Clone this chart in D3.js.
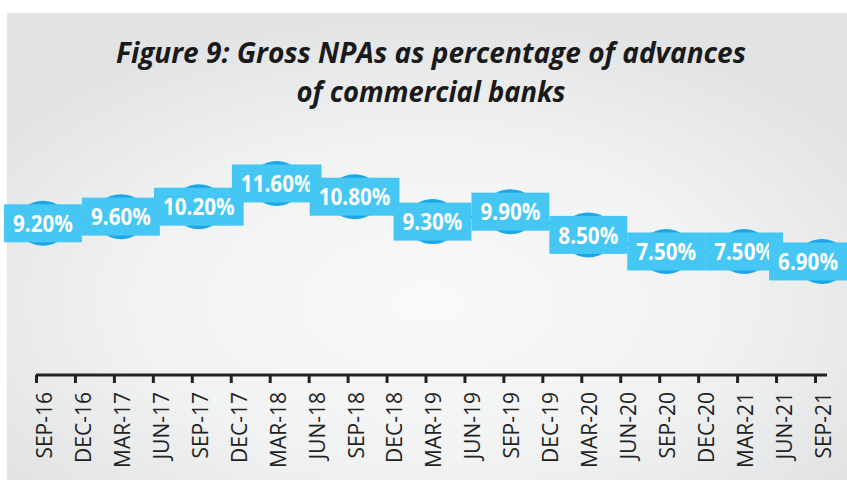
<!DOCTYPE html>
<html>
<head>
<meta charset="utf-8">
<script src="https://cdn.jsdelivr.net/npm/d3@7"></script>
<style>
  body { margin: 0; background: #ffffff; }
  svg { display: block; }
</style>
</head>
<body>
<svg id="chart" width="847" height="480"></svg>
<script>
// quarters on the axis
var quarters = ["SEP-16","DEC-16","MAR-17","JUN-17","SEP-17","DEC-17","MAR-18","JUN-18",
  "SEP-18","DEC-18","MAR-19","JUN-19","SEP-19","DEC-19","MAR-20","JUN-20",
  "SEP-20","DEC-20","MAR-21","JUN-21","SEP-21"];
// half-yearly readings
var pointQuarters = ["SEP-16","MAR-17","SEP-17","MAR-18","SEP-18","MAR-19","SEP-19",
  "MAR-20","SEP-20","MAR-21","SEP-21"];
var npaValues = [9.2, 9.6, 10.2, 11.6, 10.8, 9.3, 9.9, 8.5, 7.5, 7.5, 6.9];
var titleLines = ["Figure 9: Gross NPAs as percentage of advances", "of commercial banks"];

var svg = d3.select("#chart");
var font = "'Open Sans', 'DejaVu Sans', sans-serif";

// background with soft radial shading
var grad = svg.append("defs").append("radialGradient")
  .attr("id", "bg")
  .attr("cx", "50%").attr("cy", "62%").attr("r", "62%");
grad.append("stop").attr("offset", "0%").attr("stop-color", "#f9f9f9");
grad.append("stop").attr("offset", "55%").attr("stop-color", "#f1f2f2");
grad.append("stop").attr("offset", "100%").attr("stop-color", "#e2e3e4");

svg.append("rect")
  .attr("x", 7).attr("y", 13)
  .attr("width", 840).attr("height", 467)
  .attr("fill", "url(#bg)");

// title
var titleW = [630, 269];
svg.selectAll(".title")
  .data(titleLines)
  .enter().append("text")
  .attr("class", "title")
  .attr("x", 431)
  .attr("y", function(d, i){ return 63 + i * 39; })
  .attr("text-anchor", "middle")
  .attr("textLength", function(d, i){ return titleW[i]; })
  .attr("lengthAdjust", "spacingAndGlyphs")
  .style("font-family", font)
  .style("font-weight", "bold")
  .style("font-style", "italic")
  .style("font-size", "28px")
  .style("fill", "#1a1a1a")
  .text(function(d){ return d; });

var x = d3.scalePoint().domain(quarters).range([43, 822]);
var y = d3.scaleLinear().domain([0, 12]).range([376, 376 - 12 * 16.6]);

// x axis
var axisY = 375;
var gx = svg.append("g")
  .attr("transform", "translate(0," + axisY + ")")
  .call(d3.axisBottom(x).tickSize(8).tickSizeOuter(0));

gx.select(".domain")
  .attr("d", "M" + (x(quarters[0]) - 7) + ",0H" + (x(quarters[quarters.length - 1]) + 5))
  .attr("stroke", "#222")
  .attr("stroke-width", 3);

gx.selectAll(".tick line")
  .attr("transform", "translate(-7,0)")
  .attr("stroke", "#222")
  .attr("stroke-width", 3);

gx.selectAll(".tick text")
  .attr("transform", "rotate(-90)")
  .attr("text-anchor", "end")
  .attr("x", -17)
  .attr("y", 0)
  .attr("dy", "0.4em")
  .style("font-family", font)
  .style("font-size", "21px")
  .style("fill", "#222");

var pts = pointQuarters.map(function(q, i){ return {q: q, v: npaValues[i]}; });

// connecting line
svg.append("path")
  .datum(pts)
  .attr("fill", "none")
  .attr("stroke", "#3a4bb3")
  .attr("stroke-width", 2.5)
  .attr("d", d3.line()
    .x(function(d){ return x(d.q); })
    .y(function(d){ return y(d.v); }));

// markers
svg.selectAll(".marker")
  .data(pts)
  .enter().append("ellipse")
  .attr("class", "marker")
  .attr("cx", function(d){ return x(d.q); })
  .attr("cy", function(d){ return y(d.v); })
  .attr("rx", 26)
  .attr("ry", 22.5)
  .attr("fill", "#1ba6e8");

// data labels
var labels = svg.selectAll(".lbl")
  .data(pts)
  .enter().append("g")
  .attr("class", "lbl");

labels.append("rect")
  .attr("fill", "#45c6f3");

labels.append("text")
  .attr("text-anchor", "middle")
  .attr("dy", "0.36em")
  .style("font-family", font)
  .style("font-weight", "bold")
  .style("font-size", "24px")
  .style("fill", "#ffffff")
  .text(function(d){ return d.v.toFixed(2) + "%"; })
  .each(function(d){
    var w = this.getComputedTextLength() * 0.86;
    var cx = x(d.q);
    // keep the last label box inside the frame
    if (cx + w / 2 + 9 > 847) cx = 847 - w / 2 - 9;
    d3.select(this).attr("textLength", w).attr("lengthAdjust", "spacingAndGlyphs");
    d3.select(this.parentNode)
      .attr("transform", "translate(" + cx + "," + y(d.v) + ")")
      .select("rect")
      .attr("x", -w / 2 - 9)
      .attr("y", -19)
      .attr("width", w + 18)
      .attr("height", 38);
  });
</script>
</body>
</html>
